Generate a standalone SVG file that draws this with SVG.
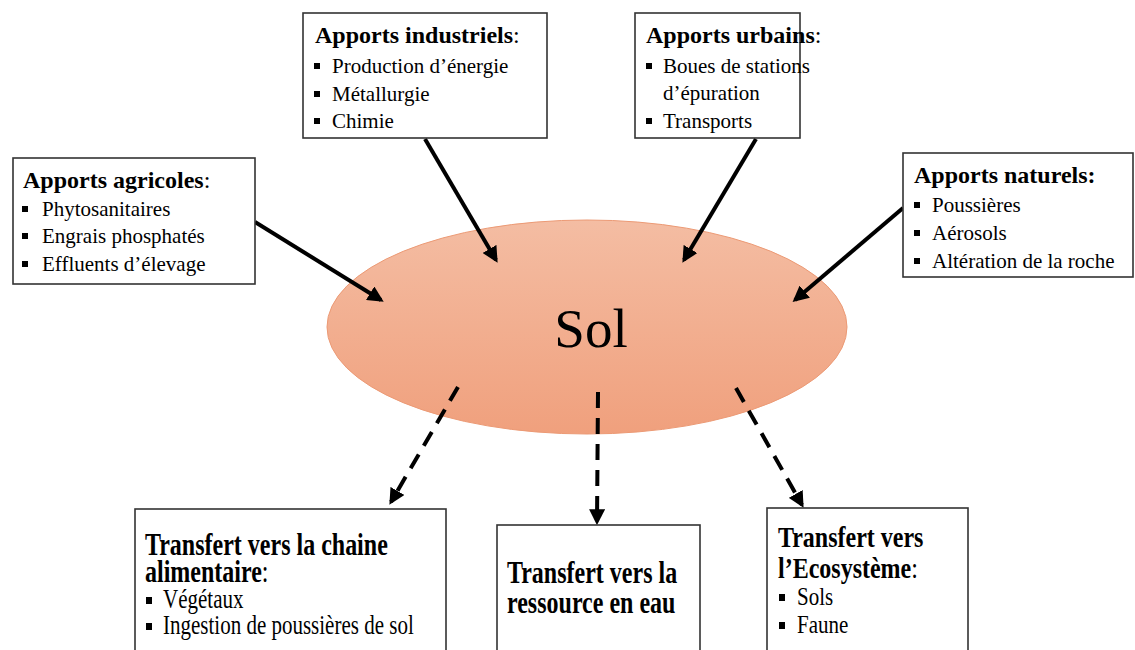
<svg xmlns="http://www.w3.org/2000/svg" width="1135" height="650" viewBox="0 0 1135 650">
<style>
.box{fill:#fff;stroke:#333;stroke-width:1.6}
.t{font-family:"Liberation Serif","Times New Roman",serif;font-size:24px;font-weight:bold;fill:#000}
.n{font-weight:normal}
.i{font-family:"Liberation Serif","Times New Roman",serif;font-size:21px;fill:#000}
.b{fill:#000}
.a{stroke:#000;stroke-width:4;fill:none;marker-end:url(#ah)}
.d{stroke:#000;stroke-width:4;fill:none;stroke-dasharray:16 10;marker-end:url(#ah)}
</style>
<defs>
<linearGradient id="eg" x1="0" y1="0" x2="0" y2="1">
<stop offset="0" stop-color="#f4bda3"/>
<stop offset="1" stop-color="#f0a07d"/>
</linearGradient>
<marker id="ah" viewBox="0 0 10 10" refX="8" refY="5" markerWidth="4" markerHeight="4" orient="auto" markerUnits="strokeWidth">
<path d="M0,0 L10,5 L0,10 z" fill="#000"/>
</marker>
</defs>
<g id="sol">
<ellipse cx="587" cy="327" rx="260" ry="107" fill="url(#eg)" stroke="#ec9a75" stroke-width="1"/>
<text x="591" y="347" text-anchor="middle" font-family="Liberation Serif,Times New Roman,serif" font-size="55">Sol</text>
</g>
<g id="connectors">
<line class="a" x1="255" y1="222" x2="381" y2="300"/>
<line class="a" x1="425" y1="139" x2="496" y2="260"/>
<line class="a" x1="756" y1="139" x2="684" y2="260"/>
<line class="a" x1="903" y1="208" x2="795" y2="300"/>
<line class="d" x1="458" y1="387" x2="391" y2="502"/>
<line class="d" x1="598" y1="392" x2="597" y2="522"/>
<line class="d" x1="736" y1="388" x2="802" y2="505"/>
</g>
<g id="agricoles">
<rect class="box" x="13" y="158" width="242" height="126"/>
<text class="t" x="23" y="188">Apports agricoles<tspan class="n">:</tspan></text>
<rect class="b" x="22" y="206" width="6" height="6"/><text class="i" x="42" y="216">Phytosanitaires</text>
<rect class="b" x="22" y="233" width="6" height="6"/><text class="i" x="42" y="243">Engrais phosphatés</text>
<rect class="b" x="22" y="261" width="6" height="6"/><text class="i" x="42" y="271">Effluents d’élevage</text>
</g>
<g id="industriels">
<rect class="box" x="303" y="13" width="244" height="125"/>
<text class="t" x="315" y="43">Apports industriels<tspan class="n">:</tspan></text>
<rect class="b" x="314" y="63" width="6" height="6"/><text class="i" x="332" y="73">Production d’énergie</text>
<rect class="b" x="314" y="91" width="6" height="6"/><text class="i" x="332" y="101">Métallurgie</text>
<rect class="b" x="314" y="118" width="6" height="6"/><text class="i" x="332" y="128">Chimie</text>
</g>
<g id="urbains">
<rect class="box" x="635" y="13" width="165" height="125"/>
<text class="t" x="646" y="43">Apports urbains<tspan class="n">:</tspan></text>
<rect class="b" x="646" y="63" width="6" height="6"/><text class="i" x="663" y="73">Boues de stations</text>
<text class="i" x="663" y="100">d’épuration</text>
<rect class="b" x="646" y="118" width="6" height="6"/><text class="i" x="663" y="128">Transports</text>
</g>
<g id="naturels">
<rect class="box" x="903" y="153" width="230" height="124"/>
<text class="t" x="914" y="183">Apports naturels:</text>
<rect class="b" x="914" y="202" width="6" height="6"/><text class="i" x="932" y="212">Poussières</text>
<rect class="b" x="914" y="230" width="6" height="6"/><text class="i" x="932" y="240">Aérosols</text>
<rect class="b" x="914" y="258" width="6" height="6"/><text class="i" x="932" y="268">Altération de la roche</text>
</g>
<g id="chaine">
<rect class="box" x="135" y="509" width="311" height="160"/>
<text class="t" transform="matrix(1,0,0,1.3,145,555)">Transfert vers la chaine</text>
<text class="t" transform="matrix(1,0,0,1.3,145,582)">alimentaire<tspan class="n">:</tspan></text>
<rect class="b" x="146" y="597" width="6" height="7"/><text class="i" transform="matrix(1,0,0,1.25,163,608)">Végétaux</text>
<rect class="b" x="146" y="623" width="6" height="7"/><text class="i" transform="matrix(1,0,0,1.25,163,634)">Ingestion de poussières de sol</text>
</g>
<g id="eau">
<rect class="box" x="497" y="525" width="203" height="140"/>
<text class="t" transform="matrix(1,0,0,1.3,507,583)">Transfert vers la</text>
<text class="t" transform="matrix(1,0,0,1.3,507,613)">ressource en eau</text>
</g>
<g id="ecosysteme">
<rect class="box" x="767" y="508" width="201" height="160"/>
<text class="t" transform="matrix(1,0,0,1.25,778,547)">Transfert vers</text>
<text class="t" transform="matrix(1,0,0,1.25,778,578)">l’Ecosystème<tspan class="n">:</tspan></text>
<rect class="b" x="779" y="594" width="6" height="7"/><text class="i" transform="matrix(1,0,0,1.2,797,605)">Sols</text>
<rect class="b" x="779" y="622" width="6" height="7"/><text class="i" transform="matrix(1,0,0,1.2,797,633)">Faune</text>
</g>
</svg>
